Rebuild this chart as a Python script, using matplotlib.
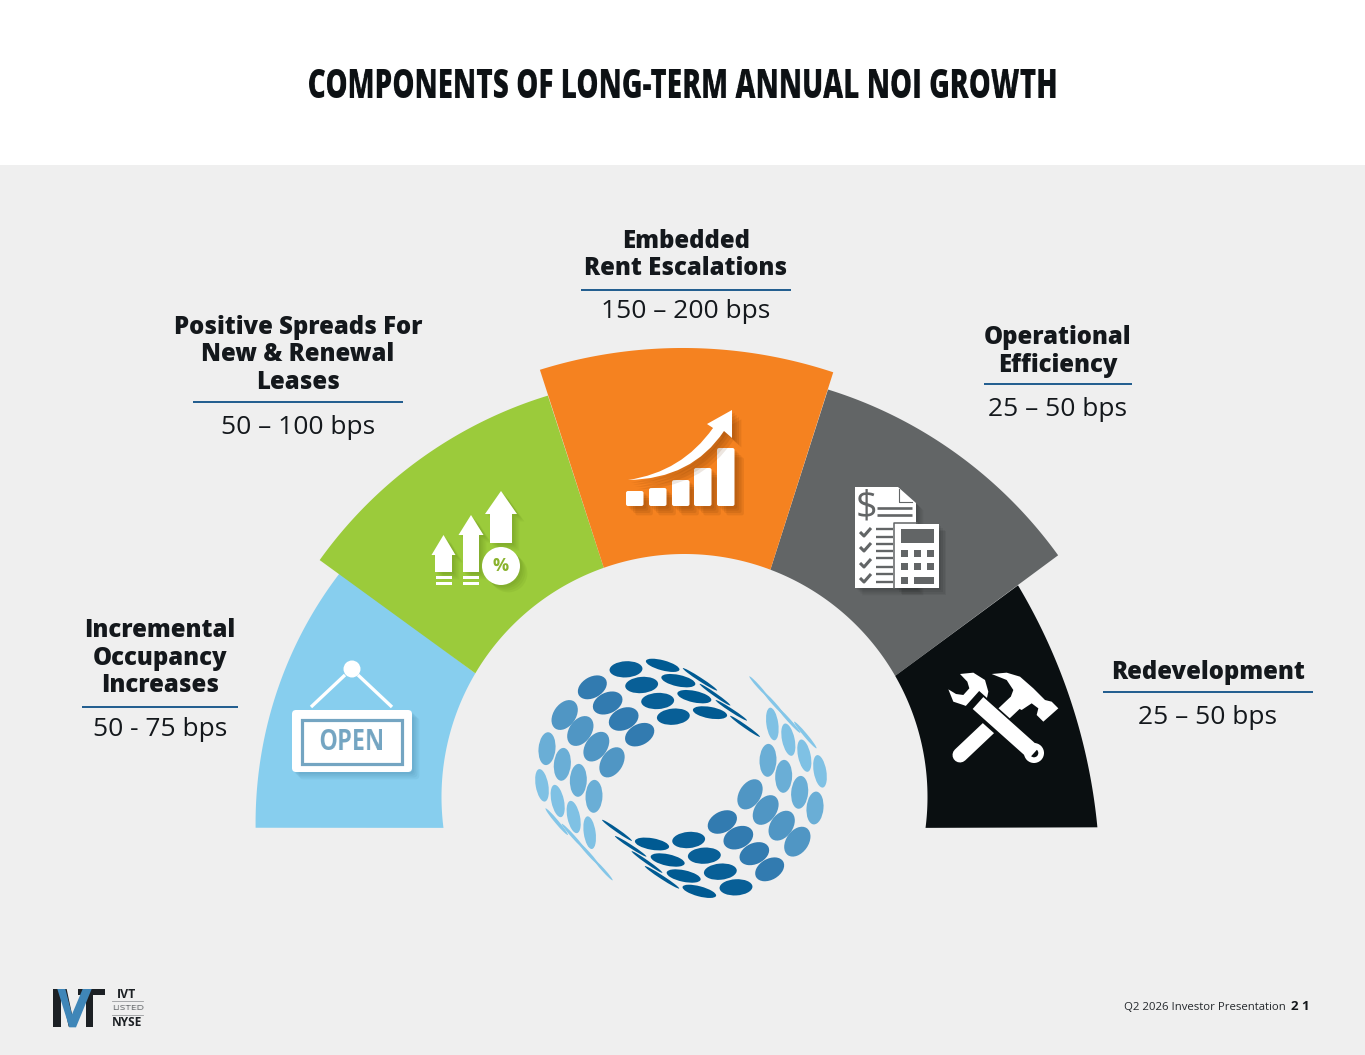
import numpy as np
import matplotlib
matplotlib.use("Agg")
import matplotlib.pyplot as plt
from matplotlib.patches import Polygon, Rectangle, Circle, Ellipse, FancyBboxPatch, PathPatch
from matplotlib.path import Path
import matplotlib.patheffects as pe

### DATA ###
title = "COMPONENTS OF LONG-TERM ANNUAL NOI GROWTH"
segment_names = [["Incremental", "Occupancy", "Increases"],
                 ["Positive Spreads For", "New & Renewal", "Leases"],
                 ["Embedded", "Rent Escalations"],
                 ["Operational", "Efficiency"],
                 ["Redevelopment"]]
segment_ranges = ["50 - 75 bps", "50 \u2013 100 bps", "150 \u2013 200 bps", "25 \u2013 50 bps", "25 \u2013 50 bps"]
segment_colors = ["#87ceee", "#9bcb3b", "#f58220", "#626566", "#0a0f11"]
footer_text = "Q2 2026 Investor Presentation"
page_number = "2 1"

### LAYOUT ###
CX, CY = 684.5, 797.0
# outer start/end angle, outer radius start/mid/end, inner start/end angle
arc_layout = [(184.1, 146.9, 430, 421, 411, 187.3, 149.4),
              (147.0, 108.8, 435, 429, 424, 149.4, 109.4),
              (108.7, 70.7, 451, 449, 450, 109.4, 69.3),
              (70.6, 32.9, 432, 438, 445, 69.3, 29.9),
              (32.4, -4.2, 395, 398, 414, 29.9, -7.3)]
R_INNER = 243
draw_order = [0, 1, 3, 4, 2]
# label centre x, underline half width, underline y, first text y, range text y
label_layout = [(160, 78, 707, 630.5, 730), (298, 105, 402, 327, 427), (686, 105, 290, 241, 312),
                (1058, 74, 384, 337.5, 409), (1208, 105, 692, 672.5, 717)]
GRAD_LIGHT = np.array([0x84, 0xc6, 0xe8]) / 255
GRAD_MID = np.array([0x36, 0x7e, 0xb2]) / 255
GRAD_DARK = np.array([0x00, 0x5a, 0x92]) / 255

# logo ellipses: x, y, width, height, angle (read in a 3x crop around the logo)
logo_cells = [(318, 88, 95, 45, -3), (428, 76, 100, 28, 15), (217, 142, 90, 58, -30), (365, 135, 95, 45, -5),
              (475, 122, 100, 32, 12), (134, 225, 95, 62, -55), (263, 189, 90, 58, -25), (413, 183, 95, 45, -3),
              (523, 170, 100, 32, 12), (81, 326, 95, 47, -85), (181, 273, 95, 62, -55), (311, 237, 90, 60, -25),
              (460, 230, 95, 45, -5), (570, 218, 100, 32, 10), (66, 436, 95, 35, 80), (127, 373, 95, 47, -85),
              (229, 320, 95, 60, -55), (359, 284, 90, 58, -28), (113, 483, 95, 35, 78), (175, 421, 95, 47, -88),
              (276, 367, 95, 60, -58), (161, 531, 95, 35, 78), (222, 469, 95, 47, -88), (209, 578, 95, 33, 82),
              (540, 118, 118, 10, 33), (585, 164, 108, 9, 35), (634, 211, 108, 9, 33), (675, 259, 105, 9, 35),
              (110, 545, 100, 10, 50), (160, 590, 100, 9, 48), (205, 640, 90, 9, 48), (250, 690, 80, 8, 48)]


def polar(angle, r):
    a = np.radians(angle)
    return CX + r * np.cos(a), CY - r * np.sin(a)


def arc_segment(layout):
    a0, a1, r0, rm, r1, b0, b1 = layout
    t = np.linspace(0, 1, 80)
    r_out = np.polyval(np.polyfit([0, .5, 1], [r0, rm, r1], 2), t)
    xo, yo = polar(a0 + (a1 - a0) * t, r_out)
    xi, yi = polar(b1 + (b0 - b1) * t, R_INNER)
    return np.column_stack([np.r_[xo, xi], np.r_[yo, yi]])


def shadow(dx=2.2, dy=2.2, color="black", alpha=.08):
    # soft drop shadow made of a few stacked offsets
    fx = [pe.SimplePatchShadow(offset=(dx * k, -dy * k), shadow_rgbFace=color, alpha=alpha) for k in (2.4, 1.8, 1.2, .7)]
    return fx + [pe.Normal()]


def squeeze(width):
    # no condensed face installed, so resize the drawn text to a given pixel width
    def flt(img, dpi):
        h, w = img.shape[:2]
        xs = np.linspace(0, w - 1, width)
        out = np.zeros((h, width, img.shape[2]), dtype=img.dtype)
        for c in range(img.shape[2]):
            for r in range(h):
                out[r, :, c] = np.interp(xs, np.arange(w), img[r, :, c])
        return out, (w - width) / 2, 0
    return flt


def logo_color(x, y):
    v = x - y
    if v < 60:
        return GRAD_LIGHT + (GRAD_MID - GRAD_LIGHT) * np.clip((v + 400) / 460, 0, 1)
    return GRAD_MID + (GRAD_DARK - GRAD_MID) * np.clip((v - 60) / 200, 0, 1)


def crop_pts(shape, ox, oy):
    return [(ox + a / 3, oy + b / 3) for a, b in shape]


fig = plt.figure(figsize=(13.65, 10.55), dpi=100, facecolor="white")
ax = fig.add_axes([0, 0, 1, 1])
ax.set_xlim(0, 1365)
ax.set_ylim(1055, 0)
ax.axis("off")

ax.add_patch(Rectangle((0, 165), 1365, 890, fc="#efefef", ec="none"))
ax.text(682.5, 87, title, ha="center", va="center", fontsize=28.5, fontweight=800,
        family="Open Sans", color="#0d1114", agg_filter=squeeze(747))

# arc pieces
for i in draw_order:
    ax.add_patch(Polygon(arc_segment(arc_layout[i]), closed=True, fc=segment_colors[i], ec="none"))

# labels
for names, rng, (lx, half, uy, ty, ry) in zip(segment_names, segment_ranges, label_layout):
    for k, line in enumerate(names):
        ax.text(lx, ty + k * 27.6, line, ha="center", va="center", fontsize=17.2, fontweight=800,
                family="Open Sans", color="#14181c")
    ax.plot([lx - half, lx + half], [uy, uy], color="#1f5b8e", lw=1.4, solid_capstyle="butt")
    ax.text(lx, ry, rng, ha="center", va="center", fontsize=19, family="Open Sans", color="#14181c")

# OPEN sign
for x0, x1 in [(311, 345), (392, 358)]:
    ax.plot([x0, x1], [707, 675], color="white", lw=2.4, solid_capstyle="butt")
ax.add_patch(Circle((352, 669), 8.5, fc="white", ec="none", zorder=3))
ax.add_patch(FancyBboxPatch((294, 712), 116, 58, boxstyle="round,pad=2,rounding_size=4", fc="white", ec="none",
                            path_effects=shadow(color="#2c6a8c")))
ax.add_patch(Rectangle((301.5, 719.5), 100.5, 44, fc="none", ec="#74a5c2", lw=2.3))
ax.text(351, 743, "OPEN", ha="center", va="center", fontsize=21, fontweight="bold",
        family="Open Sans", color="#74a5c2", agg_filter=squeeze(62))

# rising arrows
green_fx = shadow(color="#4d6a10")
for cx, tip, head, hb, shaft, sb in [(443.5, 535, 12, 555, 8.5, 572), (471, 515, 12.5, 535, 8, 572), (501, 491, 16, 514, 11, 543)]:
    arrow = [(cx, tip), (cx + head, hb), (cx + shaft, hb), (cx + shaft, sb), (cx - shaft, sb), (cx - shaft, hb), (cx - head, hb)]
    ax.add_patch(Polygon(arrow, closed=True, fc="white", ec="none", path_effects=green_fx))
for cx in (443.5, 471):
    for sy in (576, 582):
        ax.add_patch(Rectangle((cx - 8, sy), 16, 2.6, fc="white", ec="none"))
ax.add_patch(Circle((501, 566), 19, fc="white", ec="none", path_effects=green_fx))
ax.text(501, 566, "%", ha="center", va="center", fontsize=13, fontweight="bold", family="Open Sans", color="#8ab32e")

# growth bars and arrow
orange_fx = shadow(dx=2.8, dy=2.8, color="#6e3200", alpha=.12)
for x0, top in zip([626, 649, 672, 694, 717], [491, 488, 480, 468, 448]):
    ax.add_patch(FancyBboxPatch((x0 + 1, top + 1), 15.5, 504 - top, boxstyle="round,pad=1,rounding_size=2",
                                fc="white", ec="none", path_effects=orange_fx))
codes = [Path.MOVETO, Path.CURVE3, Path.CURVE3, Path.LINETO, Path.LINETO, Path.LINETO, Path.LINETO, Path.CURVE3, Path.CURVE3, Path.CLOSEPOLY]
verts = [(628, 480), (682, 472), (713, 428), (707, 424), (732, 410), (732, 438), (724, 431), (692, 479), (628, 480), (628, 480)]
ax.add_patch(PathPatch(Path(verts, codes), fc="white", ec="none", path_effects=orange_fx))

# document and calculator
GRAY = segment_colors[3]
gray_fx = shadow(color="black", alpha=.06)
doc = [(855, 487), (898, 487), (916, 503), (916, 588), (855, 588)]
ax.add_patch(Polygon(doc, closed=True, fc="white", ec="none", path_effects=gray_fx))
ax.plot([899, 899, 912], [489, 502, 502], color=GRAY, lw=.8)
ax.text(866, 508, "$", ha="center", va="center", fontsize=27, family="Open Sans", color=GRAY)
for ly in (508, 515):
    ax.plot([877, 912], [ly, ly], color=GRAY, lw=1.9, solid_capstyle="butt")
for ly in (529, 537, 544, 551, 558, 567, 574, 582):
    ax.plot([876, 893], [ly, ly], color=GRAY, lw=1.7, solid_capstyle="butt")
for cy in (532, 547, 563, 578):
    ax.plot([860, 864, 871], [cy, cy + 4, cy - 4], color=GRAY, lw=2.2, solid_capstyle="butt")
ax.add_patch(Rectangle((895, 524), 44, 64, fc="white", ec="none", path_effects=gray_fx))
ax.plot([894, 894, 917], [588, 523, 523], color=GRAY, lw=1.1)
ax.add_patch(Rectangle((901, 529), 33, 14, fc=GRAY, ec="none"))
for by in (550, 563):
    for bx in (901, 914, 927):
        ax.add_patch(Rectangle((bx, by), 6.5, 6.5, fc=GRAY, ec="none"))
ax.add_patch(Rectangle((901, 577), 6.5, 6.5, fc=GRAY, ec="none"))
ax.add_patch(Rectangle((914, 577), 20, 6.5, fc=GRAY, ec="none"))

# hammer and wrench (shapes read in a 3x crop)
BLACK = segment_colors[4]
TOOL_X, TOOL_Y = 930, 660
hammer = [(185, 42), (230, 38), (270, 50), (310, 85), (345, 120), (365, 125), (385, 145), (340, 185), (320, 165), (325, 145),
          (305, 130), (275, 150), (235, 130), (250, 90), (230, 60)]
wrench = [(90, 42), (130, 38), (165, 60), (175, 95), (170, 118), (210, 160), (140, 150), (100, 135), (70, 125), (55, 88),
          (78, 102), (100, 105), (118, 85), (112, 65)]
ax.plot([960, 1015], [755, 703], color="white", lw=10.8, solid_capstyle="round")
ax.add_patch(Polygon(crop_pts(hammer, TOOL_X, TOOL_Y), closed=True, fc="white", ec="none"))
ax.plot([972, 1010], [699, 733], color=BLACK, lw=15.5, solid_capstyle="butt")
ax.plot([978, 1034], [703, 753], color="white", lw=11.5, solid_capstyle="butt")
ax.add_patch(Polygon(crop_pts(wrench, TOOL_X, TOOL_Y), closed=True, fc="white", ec="none"))
ax.add_patch(Circle((1034, 753), 10, fc="white", ec="none"))
ax.add_patch(Circle((1034, 753), 4.3, fc=BLACK, ec="none"))

# swirl logo in the middle (second half is the first one turned 180 degrees)
ORIGIN_X, ORIGIN_Y = 520, 640
SWIRL_X, SWIRL_Y = 483, 415
for x, y, w, h, ang in logo_cells:
    col = logo_color(x, y)
    for px, py in [(x, y), (2 * SWIRL_X - x, 2 * SWIRL_Y - y)]:
        ax.add_patch(Ellipse((ORIGIN_X + px / 3, ORIGIN_Y + py / 3), w / 3 * 1.04, h / 3 * 1.08, angle=ang, fc=col, ec="none"))

# footer mark
mark_dark = [[(40, 42), (62, 42), (62, 157), (40, 157)], [(62, 42), (80, 42), (104, 155), (86, 155)],
             [(115, 42), (195, 42), (195, 60), (160, 60), (160, 155), (138, 155), (138, 60), (115, 60)]]
mark_blue = [(52, 42), (76, 42), (96, 118), (128, 42), (155, 42), (108, 157), (88, 157)]
for shape in mark_dark:
    ax.add_patch(Polygon(crop_pts(shape, 40, 975), closed=True, fc="#1c2024", ec="none"))
ax.add_patch(Polygon(crop_pts(mark_blue, 40, 975), closed=True, fc="#3f86b8", ec="none"))
ax.text(127, 994, "IVT", ha="center", va="center", fontsize=8.8, fontweight="bold", family="Open Sans", color="#1c2024")
ax.text(127.5, 1008, "LISTED", ha="center", va="center", fontsize=6, family="Open Sans", color="#44484c", agg_filter=squeeze(31))
ax.text(127.5, 1022, "NYSE", ha="center", va="center", fontsize=8.6, fontweight="bold", family="Open Sans", color="#1c2024")
for ly in (1001, 1015):
    ax.plot([112, 143], [ly, ly], color="#9a9c9e", lw=.6)

ax.text(1286, 1007, footer_text, ha="right", va="center", fontsize=8.2, family="Open Sans", color="#24282c")
ax.text(1310, 1007, page_number, ha="right", va="center", fontsize=9.5, fontweight="bold", family="Open Sans", color="#14181c")

fig.savefig("out.png", dpi=100, facecolor="white")
